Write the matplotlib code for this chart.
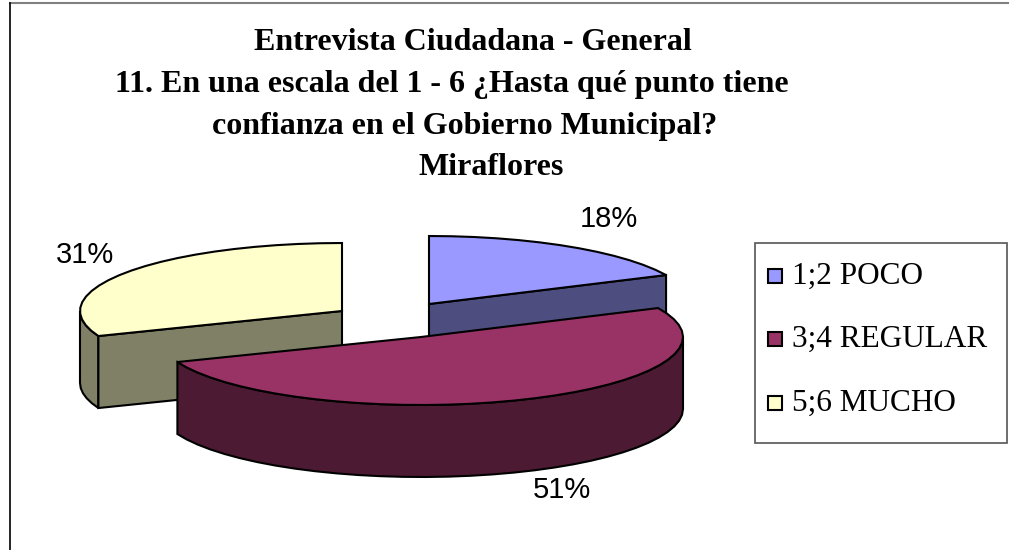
import numpy as np
import matplotlib
matplotlib.use("Agg")
import matplotlib.pyplot as plt
from matplotlib.patches import Polygon, Rectangle

title_lines = [
    "Entrevista Ciudadana - General",
    "11. En una escala del 1 - 6 ¿Hasta qué punto tiene",
    "confianza en el Gobierno Municipal?",
    "Miraflores",
]
categories = ["1;2 POCO", "3;4 REGULAR", "5;6 MUCHO"]
values = [18, 51, 31]

top_colors = ["#9999FF", "#993366", "#FFFFCC"]
side_colors = ["#4D4D80", "#4D1A33", "#808066"]
# apex of each exploded slice, in pixels
centers = [(429, 304), (421, 337), (342, 311)]
label_pos = [(609, 227), (562, 498), (85, 263)]
draw_order = [2, 0, 1]

A = 262
B = 68
DEPTH = 72
LW = 1.5


def rim(cx, cy, start, end, dy=0):
    # coarse steps, the original outline is faceted
    n = int(abs(end - start) / 5) + 2
    t = np.radians(np.linspace(start, end, n))
    return np.column_stack([cx + A * np.cos(t), cy - B * np.sin(t) + dy])


def draw_slice(ax, center, start, end, top, side):
    cx, cy = center
    upper = rim(cx, cy, start, end)
    # outer wall, only the part that faces the viewer
    s, e = min(start, 0), max(end, -180)
    if s > e:
        wall = np.vstack([rim(cx, cy, s, e), rim(cx, cy, s, e, DEPTH)[::-1]])
        ax.add_patch(Polygon(wall, fc=side, ec="black", lw=LW))
    # cut faces, same test
    if np.sin(np.radians(start + 90)) < -1e-6:
        pt = upper[0]
        ax.add_patch(Polygon([(cx, cy), pt, (pt[0], pt[1] + DEPTH), (cx, cy + DEPTH)], fc=side, ec="black", lw=LW))
    if np.sin(np.radians(end - 90)) < -1e-6:
        pt = upper[-1]
        ax.add_patch(Polygon([(cx, cy), pt, (pt[0], pt[1] + DEPTH), (cx, cy + DEPTH)], fc=side, ec="black", lw=LW))
    ax.add_patch(Polygon(np.vstack([[(cx, cy)], upper]), fc=top, ec="black", lw=LW))


fig = plt.figure(figsize=(10.21, 5.5), dpi=100)
ax = fig.add_axes([0, 0, 1, 1])
ax.set_xlim(0, 1021)
ax.set_ylim(550, 0)
ax.axis("off")

# chart frame, grey on top and black on the left
ax.plot([9.5, 1008], [2.5, 2.5], color="#808080", lw=1.5)
ax.plot([9.5, 9.5], [2.5, 550], color="black", lw=1.2)

angles = 90 - np.cumsum([0] + values) * 3.6
for i in draw_order:
    draw_slice(ax, centers[i], angles[i], angles[i + 1], top_colors[i], side_colors[i])

title_x = [473, 452, 465, 491]
title_y = [50, 92, 134, 175]
for line, x, y in zip(title_lines, title_x, title_y):
    ax.text(x, y, line, ha="center", va="baseline", fontsize=23, fontweight="bold",
            family="Liberation Serif", color="black")

for v, (x, y) in zip(values, label_pos):
    ax.text(x, y, f"{v}%", ha="center", va="baseline", fontsize=21, family="Liberation Sans", color="black")

# legend
ax.add_patch(Rectangle((755, 243), 252, 200, fc="white", ec="#555555", lw=1.2))
legend_y = [284, 347, 411]
for name, color, y in zip(categories, top_colors, legend_y):
    ax.add_patch(Rectangle((767.5, y - 15), 14, 14, fc=color, ec="black", lw=1.5))
    ax.text(792, y, name, ha="left", va="baseline", fontsize=22.5, family="Liberation Serif", color="black")

fig.savefig("out.png", dpi=100)
plt.close(fig)
